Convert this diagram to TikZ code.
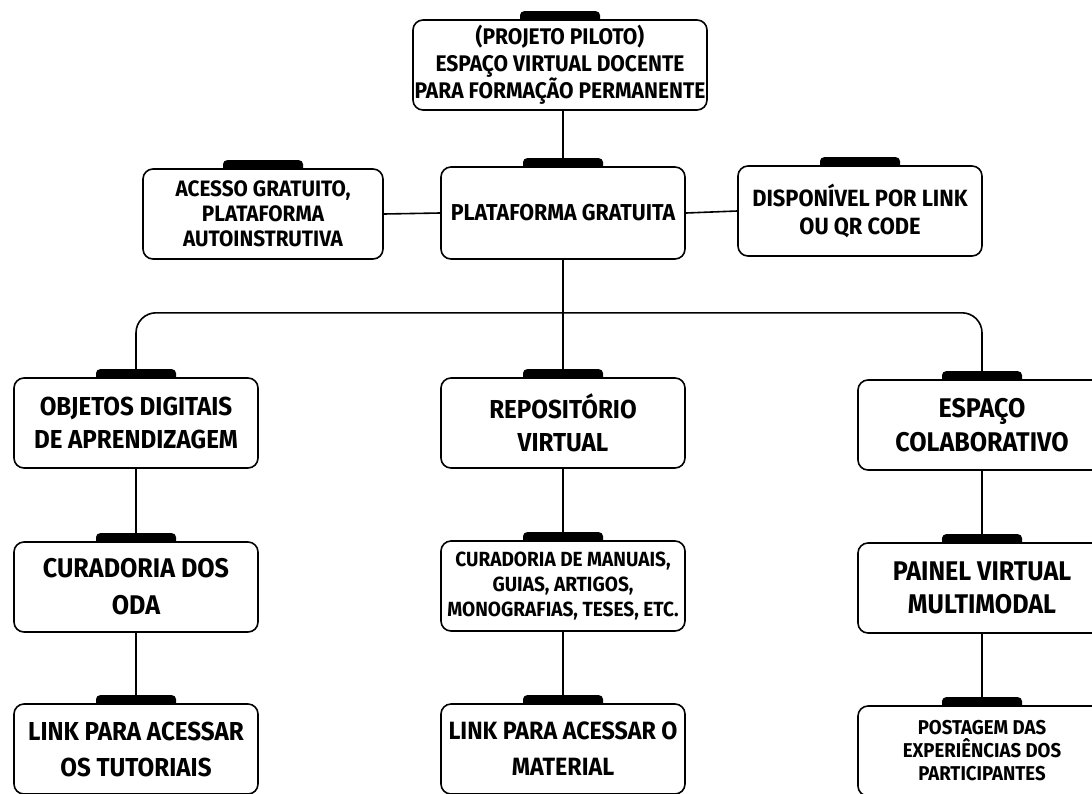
\documentclass[tikz,border=0pt]{standalone}
\usepackage{fontspec}
\setmainfont{Fira Sans}[FakeStretch=0.93]
\usetikzlibrary{backgrounds}
\newcommand{\fsz}[2]{\fontsize{#1}{#2}\selectfont\bfseries}
\begin{document}
\begin{tikzpicture}[x=1pt, y=-1pt,
  box/.style={draw, line width=1.6pt, rounded corners=10pt, fill=white,
    minimum width=244pt, minimum height=90pt, inner sep=0pt, align=center},
  link/.style={line width=1.6pt}]
\useasboundingbox (0,0) rectangle (1092,793);
% topo
\node[box, minimum width=294pt, font=\fsz{22.6}{27}] (piloto) at (560,65)
  {(PROJETO PILOTO)\\ESPAÇO VIRTUAL DOCENTE\\PARA FORMAÇÃO PERMANENTE};
% segunda linha
\node[box, minimum width=240pt, font=\fsz{22.3}{25}] (acesso) at (263,214)
  {ACESSO GRATUITO,\\PLATAFORMA\\AUTOINSTRUTIVA};
\node[box, minimum height=92pt, font=\fsz{23}{25}] (plataforma) at (563,213)
  {PLATAFORMA GRATUITA};
\node[box, font=\fsz{23.5}{28}] (disponivel) at (860,211)
  {DISPONÍVEL POR LINK\\OU QR CODE};
% colunas
\node[box, font=\fsz{26}{33}] (objetos) at (136,423)
  {OBJETOS DIGITAIS\\DE APRENDIZAGEM};
\node[box, font=\fsz{26}{33}] (repositorio) at (563,423)
  {REPOSITÓRIO\\VIRTUAL};
\node[box, minimum width=248pt, font=\fsz{27}{34}] (espaco) at (982,425)
  {ESPAÇO\\COLABORATIVO};
\node[box, font=\fsz{27}{37}] (curoda) at (136,587)
  {CURADORIA DOS\\ODA};
\node[box, font=\fsz{20.5}{25}] (curmanuais) at (563,586)
  {CURADORIA DE MANUAIS,\\GUIAS, ARTIGOS,\\MONOGRAFIAS, TESES, ETC.};
\node[box, minimum width=248pt, font=\fsz{27}{33}] (painel) at (982,588)
  {PAINEL VIRTUAL\\MULTIMODAL};
\node[box, font=\fsz{26}{36}] (tutoriais) at (136,749)
  {LINK PARA ACESSAR\\OS TUTORIAIS};
\node[box, font=\fsz{25}{36}] (material) at (563,749)
  {LINK PARA ACESSAR O\\MATERIAL};
\node[box, minimum width=248pt, font=\fsz{20}{23}] (postagem) at (982,751)
  {POSTAGEM DAS\\EXPERIÊNCIAS DOS\\PARTICIPANTES};
% abas pretas
\begin{scope}[on background layer]
\foreach \n in {piloto,acesso,plataforma,disponivel,objetos,repositorio,espaco,
  curoda,curmanuais,painel,tutoriais,material,postagem}
  \fill[rounded corners=4pt] ([xshift=-40pt,yshift=-4pt]\n.north)
    rectangle ([xshift=40pt,yshift=8pt]\n.north);
\end{scope}
% ligacoes
\draw[link] (piloto.south -| plataforma.north) -- ([yshift=8pt]plataforma.north);
\draw[link] (acesso.east) -- (plataforma.west);
\draw[link] (plataforma.east) -- (disponivel.west);
\draw[link] (plataforma.south) -- ++(0,53) coordinate (barra);
\draw[link, rounded corners=20pt] ([yshift=8pt]objetos.north) -- (objetos.north |- barra)
  -- (espaco.north |- barra) -- ([yshift=8pt]espaco.north);
\draw[link] (barra) -- ([yshift=8pt]repositorio.north);
\foreach \a/\b in {objetos/curoda,curoda/tutoriais,repositorio/curmanuais,
  curmanuais/material,espaco/painel,painel/postagem}
  \draw[link] (\a.south) -- ([yshift=8pt]\b.north);
\end{tikzpicture}
\end{document}
